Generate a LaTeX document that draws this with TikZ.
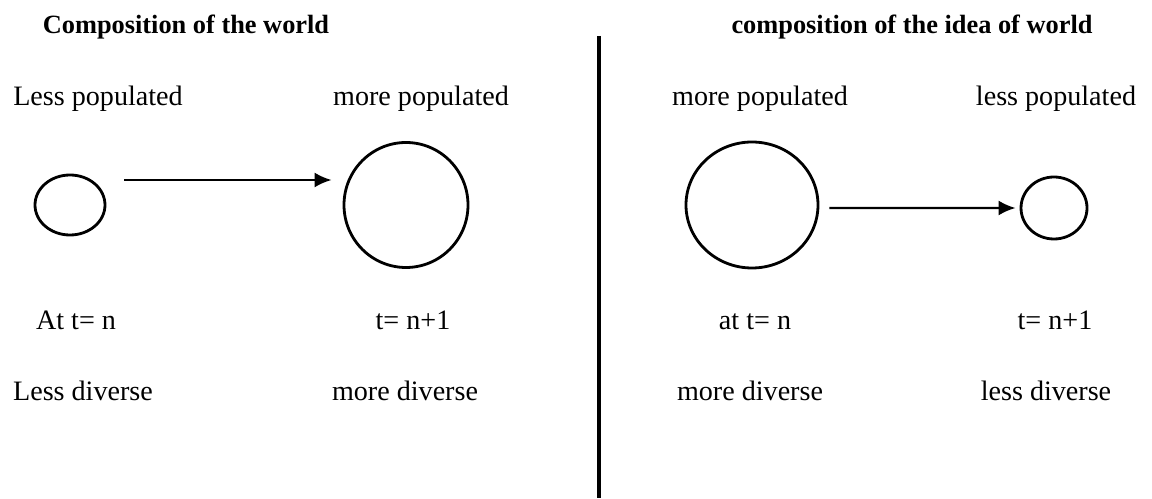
\documentclass[tikz,border=0pt]{standalone}
\usepackage{fontspec}
\setmainfont{Liberation Serif}
\usetikzlibrary{shapes.geometric,arrows.meta}
\tikzset{
  heading/.style={anchor=base, font=\fontsize{15}{18}\selectfont\bfseries, inner sep=0pt},
  caption/.style={anchor=base, font=\fontsize{16}{19}\selectfont, inner sep=0pt},
  world/.style={ellipse, draw=black, line width=1.6pt, inner sep=0pt},
  flow/.style={line width=1.4pt, -{Latex[length=0.34cm,width=0.3cm]}},
  divider/.style={line width=1.8pt},
}
\begin{document}
\begin{tikzpicture}
\useasboundingbox (0,0) rectangle (23.04,9.96);
% headings
\node[heading] (hworld) at (3.72,9.28) {Composition of the world};
\node[heading] (hidea) at (18.24,9.28) {composition of the idea of world};
\draw[divider] (11.98,9.24) -- (11.98,0);
% left half
\node[caption] (lpopa) at (1.96,7.84) {Less populated};
\node[caption] (lpopb) at (8.42,7.84) {more populated};
\node[world, minimum width=1.40cm, minimum height=1.20cm] (lsmall) at (1.40,5.86) {};
\node[world, minimum width=2.48cm, minimum height=2.50cm] (lbig) at (8.12,5.86) {};
\draw[flow] ([shift={(0.36,0.5)}]lsmall.east) -- ([shift={(-0.22,0.5)}]lbig.west);
\node[caption] (ltima) at (1.52,3.36) {At t= n};
\node[caption] (ltimb) at (8.26,3.36) {t= n+1};
\node[caption] (ldiva) at (1.66,1.94) {Less diverse};
\node[caption] (ldivb) at (8.10,1.94) {more diverse};
% right half
\node[caption] (rpopa) at (15.20,7.84) {more populated};
\node[caption] (rpopb) at (21.12,7.84) {less populated};
\node[world, minimum width=2.64cm, minimum height=2.52cm] (rbig) at (15.04,5.86) {};
\node[world, minimum width=1.32cm, minimum height=1.24cm] (rsmall) at (21.08,5.80) {};
\draw[flow] ([shift={(0.2,-0.06)}]rbig.east) -- ([xshift=-0.08cm]rsmall.west);
\node[caption] (rtima) at (15.10,3.36) {at t= n};
\node[caption] (rtimb) at (21.10,3.36) {t= n+1};
\node[caption] (rdiva) at (15.00,1.94) {more diverse};
\node[caption] (rdivb) at (20.92,1.94) {less diverse};
\end{tikzpicture}
\end{document}
